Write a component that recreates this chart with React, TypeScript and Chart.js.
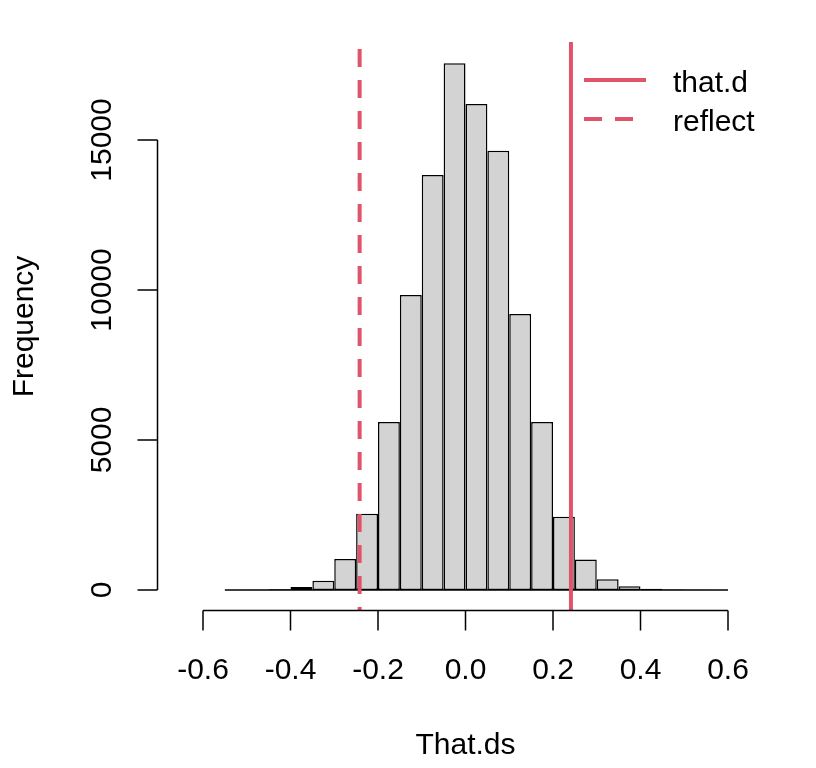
import { useEffect, useRef } from "react";
import { Chart, registerables } from "chart.js";

Chart.register(...registerables);

// histogram bins (left edges) and counts
const binStart = [
  -0.55, -0.5, -0.45, -0.4, -0.35, -0.3, -0.25, -0.2, -0.15, -0.1, -0.05, 0.0,
  0.05, 0.1, 0.15, 0.2, 0.25, 0.3, 0.35, 0.4, 0.45, 0.5, 0.55,
];
const counts = [
  3, 8, 25, 100, 310, 1030, 2540, 5600, 9830, 13830, 17560, 16200,
  14640, 9200, 5600, 2440, 1020, 360, 125, 38, 14, 5, 2,
];
const thatD = 0.241;
const reflect = -0.242;

const xTicks = [-0.6, -0.4, -0.2, 0.0, 0.2, 0.4, 0.6];
const xTickLabels = ["-0.6", "-0.4", "-0.2", "0.0", "0.2", "0.4", "0.6"];
const yTicks = [0, 5000, 10000, 15000];
const yTickLabels = ["0", "5000", "10000", "15000"];

const X_MIN = -0.704;
const X_MAX = 0.704;
const Y_MIN = -700;
const Y_MAX = 18267;

const RED = "#DF536B";
const FONT = '30px "Liberation Sans", Arial, Helvetica, sans-serif';

const binWidth = binStart[1] - binStart[0];

const axesPlugin = {
  id: "rAxes",
  afterDraw(chart: Chart) {
    const ctx = chart.ctx;
    const xs = chart.scales.x;
    const ys = chart.scales.y;
    const area = chart.chartArea;
    ctx.save();
    ctx.strokeStyle = "#000";
    ctx.fillStyle = "#000";
    ctx.lineWidth = 1.5;
    ctx.font = FONT;

    // x axis
    const axY = area.bottom - 0.5;
    ctx.beginPath();
    ctx.moveTo(xs.getPixelForValue(xTicks[0]), axY);
    ctx.lineTo(xs.getPixelForValue(xTicks[xTicks.length - 1]), axY);
    xTicks.forEach((v) => {
      const px = xs.getPixelForValue(v);
      ctx.moveTo(px, axY);
      ctx.lineTo(px, axY + 20);
    });
    ctx.stroke();
    ctx.textAlign = "center";
    ctx.textBaseline = "alphabetic";
    xTicks.forEach((v, i) => {
      ctx.fillText(xTickLabels[i], xs.getPixelForValue(v), 679);
    });
    ctx.fillText("That.ds", (area.left + area.right) / 2, 754);

    // y axis
    const axX = area.left;
    ctx.beginPath();
    ctx.moveTo(axX, ys.getPixelForValue(yTicks[0]));
    ctx.lineTo(axX, ys.getPixelForValue(yTicks[yTicks.length - 1]));
    yTicks.forEach((v) => {
      const py = ys.getPixelForValue(v);
      ctx.moveTo(axX, py);
      ctx.lineTo(axX - 20, py);
    });
    ctx.stroke();
    yTicks.forEach((v, i) => {
      ctx.save();
      ctx.translate(110.5, ys.getPixelForValue(v));
      ctx.rotate(-Math.PI / 2);
      ctx.fillText(yTickLabels[i], 0, 0);
      ctx.restore();
    });
    ctx.save();
    ctx.translate(33, (area.top + area.bottom) / 2);
    ctx.rotate(-Math.PI / 2);
    ctx.fillText("Frequency", 0, 0);
    ctx.restore();

    // legend
    const items = chart.data.datasets.filter((d: any) => d.inLegend);
    items.forEach((d: any, i: number) => {
      const ly = 80 + i * 39;
      ctx.save();
      ctx.strokeStyle = d.borderColor;
      ctx.lineWidth = d.borderWidth;
      ctx.setLineDash(d.borderDash || []);
      ctx.beginPath();
      ctx.moveTo(584, ly);
      ctx.lineTo(646, ly);
      ctx.stroke();
      ctx.restore();
      ctx.textAlign = "left";
      ctx.fillText(d.label, 673, ly + 11.5);
    });
    ctx.restore();
  },
};

export default function App() {
  const ref = useRef<HTMLCanvasElement | null>(null);
  const chartRef = useRef<Chart | null>(null);

  useEffect(() => {
    document.body.style.margin = "0";
    if (!ref.current) return;
    chartRef.current?.destroy();
    chartRef.current = new Chart(ref.current, {
      type: "bar",
      data: {
        datasets: [
          {
            type: "line",
            label: "that.d",
            inLegend: true,
            data: [
              { x: thatD, y: Y_MAX },
              { x: thatD, y: Y_MIN },
            ],
            borderColor: RED,
            borderWidth: 4,
            pointRadius: 0,
            order: 0,
          } as any,
          {
            type: "line",
            label: "reflect",
            inLegend: true,
            data: [
              { x: reflect, y: Y_MAX },
              { x: reflect, y: Y_MIN },
            ],
            borderColor: RED,
            borderWidth: 4,
            borderDash: [18, 13],
            borderDashOffset: 24,
            pointRadius: 0,
            order: 1,
          } as any,
          {
            type: "line",
            label: "baseline",
            data: [
              { x: binStart[0], y: 0 },
              { x: binStart[binStart.length - 1] + binWidth, y: 0 },
            ],
            borderColor: "#000",
            borderWidth: 1.5,
            pointRadius: 0,
            order: 2,
          },
          {
            type: "bar",
            label: "That.ds",
            data: binStart.map((s, i) => ({ x: s + binWidth / 2, y: counts[i] })),
            backgroundColor: "#D3D3D3",
            borderColor: "#000",
            borderWidth: 1.5,
            borderSkipped: false,
            inflateAmount: 0,
            barPercentage: 1,
            categoryPercentage: 1,
            order: 3,
          },
        ],
      },
      options: {
        animation: false,
        responsive: true,
        maintainAspectRatio: false,
        layout: { padding: { left: 157.5, right: 42.5, top: 42, bottom: 157 } },
        plugins: {
          legend: { display: false },
          tooltip: { enabled: false },
          title: { display: false },
        },
        scales: {
          x: { type: "linear", min: X_MIN, max: X_MAX, offset: false, display: false },
          y: { type: "linear", min: Y_MIN, max: Y_MAX, display: false },
        },
      },
      plugins: [axesPlugin],
    });
    return () => {
      chartRef.current?.destroy();
      chartRef.current = null;
    };
  }, []);

  return (
    <div style={{ position: "relative", width: 816, height: 768, background: "#fff" }}>
      <canvas ref={ref} aria-label="Histogram of That.ds" />
    </div>
  );
}
